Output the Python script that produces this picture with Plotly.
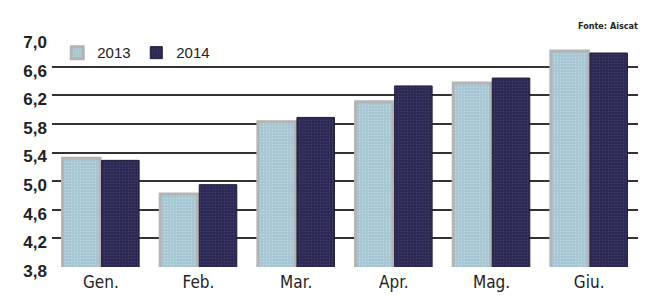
import plotly.graph_objects as go

months = ["Gen.", "Feb.", "Mar.", "Apr.", "Mag.", "Giu."]
v2013 = [5.32, 4.82, 5.83, 6.11, 6.37, 6.82]
v2014 = [5.29, 4.95, 5.89, 6.33, 6.44, 6.79]
tick_vals = [3.8, 4.2, 4.6, 5.0, 5.4, 5.8, 6.2, 6.6, 7.0]
tick_text = ["3,8", "4,2", "4,6", "5,0", "5,4", "5,8", "6,2", "6,6", "7,0"]

NARROW = "Liberation Sans Narrow, Arial Narrow, DejaVu Sans Condensed, sans-serif"

fig = go.Figure()
fig.add_trace(go.Bar(
    x=months, y=v2013, name="2013",
    marker=dict(color="#a6c6d3", line=dict(color="#b4b4b4", width=3),
                pattern=dict(shape=".", fgcolor="#e6eef0", size=3, solidity=0.15)),
))
fig.add_trace(go.Bar(
    x=months, y=v2014, name="2014",
    marker=dict(color="#2c2a55", line=dict(color="#1c1b38", width=1),
                pattern=dict(shape=".", fgcolor="#5a5a80", size=3, solidity=0.15)),
))

fig.update_layout(
    width=656, height=296,
    margin=dict(l=44, r=26, t=30, b=23),
    paper_bgcolor="white", plot_bgcolor="white",
    barmode="group", bargap=0.2, bargroupgap=0.04,
    showlegend=True,
    legend=dict(orientation="h", x=0.009, y=0.935, xanchor="left", yanchor="middle",
                bgcolor="rgba(0,0,0,0)", font=dict(family="Liberation Sans, Arial, sans-serif", size=15, color="#222"),
                itemwidth=30, entrywidth=34, entrywidthmode="pixels", traceorder="normal"),
    xaxis=dict(showgrid=False, showline=False, ticks="", ticklabelstandoff=3,
               tickfont=dict(family=NARROW, size=17, color="#222")),
    yaxis=dict(range=[3.8, 7.0], tickvals=tick_vals, ticktext=tick_text,
               showgrid=True, gridcolor="#333333", gridwidth=1.6,
               zeroline=False, showline=False, ticks="",
               ticklabelstandoff=4, ticklabelshift=4,
               tickfont=dict(family="Liberation Sans, Arial, sans-serif", size=17, color="#222", weight="bold")),
    annotations=[dict(text="Fonte: Aiscat", x=1.003, y=1.053, xref="paper", yref="paper",
                      xanchor="right", yanchor="middle", showarrow=False,
                      font=dict(family=NARROW, size=9, color="#222", weight="bold"))],
)
fig.write_html("out.html")
